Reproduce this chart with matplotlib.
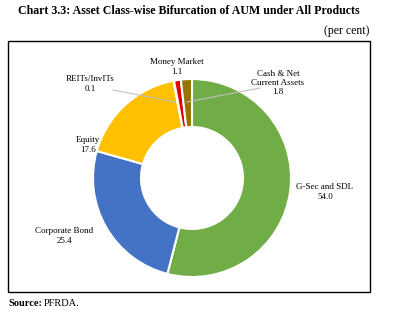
import matplotlib.pyplot as plt
from matplotlib.patches import Rectangle

categories = ["G-Sec and SDL", "Corporate Bond", "Equity", "REITs/InvITs",
              "Money Market", "Cash & Net\nCurrent Assets"]
values = [54.0, 25.4, 17.6, 0.1, 1.1, 1.8]
colors = ["#70AD47", "#4472C4", "#FFC000", "#A5A5A5", "#E00000", "#997300"]


def main():
    plt.rcParams["font.family"] = ["Liberation Serif", "DejaVu Serif"]
    fig = plt.figure(figsize=(4.0, 3.21), dpi=100)
    # axes in pixel units over the whole figure
    ax = fig.add_axes([0, 0, 1, 1])

    ax.add_patch(Rectangle((8, 29), 362, 251, fill=False,
                           edgecolor="black", linewidth=1.0))

    ax.pie(values, colors=colors, startangle=90, counterclock=False,
           center=(192, 143), radius=99, frame=True,
           wedgeprops=dict(width=48, edgecolor="white", linewidth=1.5))
    ax.set_xlim(0, 400)
    ax.set_ylim(0, 321)
    ax.axis("off")

    fig.text(0.045, 0.965, "Chart 3.3: Asset Class-wise Bifurcation of AUM under All Products",
             fontsize=8.6, fontweight="bold", ha="left", va="center")
    fig.text(0.923, 0.903, "(per cent)", fontsize=8.5, ha="right", va="center")
    fig.text(0.02, 0.053, "Source:", fontsize=7.5, fontweight="bold",
             ha="left", va="center")
    fig.text(0.11, 0.053, "PFRDA.", fontsize=7.5, ha="left", va="center")

    fs = 6.5
    lab = dict(fontsize=fs, ha="center", va="center", linespacing=1.25)
    ax.text(325, 129, f"{categories[0]}\n{values[0]:.1f}", **lab)
    ax.text(64, 85, f"{categories[1]}\n{values[1]:.1f}", **lab)
    ax.text(88, 176, f"{categories[2]}\n{values[2]:.1f}", **lab)
    ax.text(90, 237, f"{categories[3]}\n{values[3]:.1f}", **lab)
    ax.text(177, 254, f"{categories[4]}\n{values[4]:.1f}", **lab)
    ax.text(278, 238, f"{categories[5]}\n{values[5]:.1f}", **lab)

    ax.plot([113, 175], [231, 219], color="#BFBFBF", linewidth=0.8)
    ax.plot([260, 187], [233, 219], color="#BFBFBF", linewidth=0.8)

    fig.savefig("out.png", dpi=100)


if __name__ == "__main__":
    main()
